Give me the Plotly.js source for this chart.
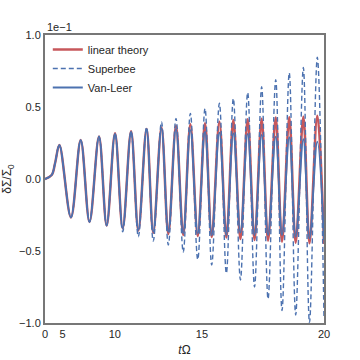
<!DOCTYPE html>
<html>
<head>
<meta charset="utf-8">
<script src="https://cdn.plot.ly/plotly-3.0.1.min.js"></script>
<style>
  html, body { margin: 0; padding: 0; background: #fff; }
  #chart { width: 360px; height: 360px; }
</style>
</head>
<body>
<div id="chart"></div>
<script>
// x positions of the turning points, in the (stretched) plot axis units
const tAxis = [0, 0.48, 0.72, 1.03, 1.86, 2.56, 3.19, 3.87, 4.42, 5.02, 5.57, 6.17, 6.69, 7.28, 7.76,
               8.35, 8.84, 9.39, 9.91, 10.42, 10.95, 11.47, 11.95, 12.50, 13.00, 13.50, 14.01, 14.53,
               15.02, 15.53, 15.99, 16.54, 16.99, 17.51, 17.97, 18.52, 18.96, 19.52, 20.0];

// dSigma/Sigma0 in units of 1e-1
const linearTheory = [0, 0.028, 0.109, 0.236, -0.267, 0.271, -0.299, 0.295, -0.323, 0.317, -0.342, 0.331,
                      -0.358, 0.347, -0.373, 0.358, -0.382, 0.369, -0.389, 0.380, -0.396, 0.387, -0.403,
                      0.398, -0.406, 0.410, -0.417, 0.415, -0.424, 0.419, -0.428, 0.427, -0.435, 0.428,
                      -0.442, 0.433, -0.447, 0.440, -0.451];

const superbee = [0, 0.028, 0.109, 0.236, -0.267, 0.271, -0.299, 0.295, -0.323, 0.317, -0.366, 0.331,
                  -0.401, 0.361, -0.431, 0.396, -0.458, 0.420, -0.508, 0.456, -0.560, 0.490, -0.597,
                  0.526, -0.655, 0.560, -0.701, 0.601, -0.750, 0.641, -0.833, 0.690, -0.913, 0.738,
                  -0.944, 0.774, -0.997, 0.845, -0.972];

const vanLeer = [0, 0.028, 0.109, 0.236, -0.267, 0.271, -0.299, 0.295, -0.323, 0.315, -0.342, 0.328,
                 -0.354, 0.344, -0.366, 0.351, -0.366, 0.347, -0.377, 0.340, -0.377, 0.328, -0.389,
                 0.322, -0.389, 0.317, -0.370, 0.313, -0.389, 0.306, -0.389, 0.294, -0.389, 0.290,
                 -0.401, 0.276, -0.412, 0.259, -0.424];

// tick labels (tΩ) and where they sit on the axis
const xTickVals = [0, 1.25, 5, 11.25, 20];
const xTickText = ['0', '5', '10', '15', '20'];
const yTickVals = [-1, -0.5, 0, 0.5, 1];

const RED = '#c44e52';
const BLUE = '#4c72b0';
const FONT = 'Liberation Sans, Arial, sans-serif';

const traces = [
    {
        x: tAxis, y: linearTheory,
        mode: 'lines', name: 'linear theory',
        line: { color: RED, width: 2.5, shape: 'spline', smoothing: 1 },
        opacity: 0.95
    },
    {
        x: tAxis, y: superbee,
        mode: 'lines', name: 'Superbee',
        line: { color: BLUE, width: 1.4, dash: '5px,3px', shape: 'spline', smoothing: 1 }
    },
    {
        x: tAxis, y: vanLeer,
        mode: 'lines', name: 'Van-Leer',
        line: { color: BLUE, width: 1.8, shape: 'spline', smoothing: 1 }
    }
];

const axisCommon = {
    showgrid: false,
    zeroline: false,
    showline: true,
    mirror: true,
    linecolor: '#777',
    linewidth: 2,
    ticks: '',
    tickfont: { family: FONT, size: 11, color: '#262626' },
    fixedrange: true
};

const layout = {
    width: 360, height: 360,
    margin: { l: 45, r: 36, t: 35, b: 37 },
    paper_bgcolor: '#fff',
    plot_bgcolor: '#fff',
    font: { family: FONT, color: '#262626' },
    xaxis: Object.assign({}, axisCommon, {
        range: [0, 20],
        tickvals: xTickVals,
        ticktext: xTickText,
        title: { text: '<i>t</i>Ω', font: { family: FONT, size: 12 }, standoff: 6 }
    }),
    yaxis: Object.assign({}, axisCommon, {
        range: [-1, 1],
        tickvals: yTickVals,
        tickformat: '.1f',
        title: { text: 'δΣ/Σ<sub>0</sub>', font: { family: FONT, size: 12 }, standoff: 6 }
    }),
    showlegend: true,
    legend: {
        x: 0.01, y: 1.0, xanchor: 'left', yanchor: 'top',
        bgcolor: 'rgba(255,255,255,0)',
        font: { family: FONT, size: 11, color: '#262626' },
        itemwidth: 30,
        tracegroupgap: 0
    },
    annotations: [{
        text: '1e−1',
        xref: 'paper', yref: 'paper', x: 0, y: 1,
        xanchor: 'left', yanchor: 'bottom',
        showarrow: false,
        font: { family: FONT, size: 11, color: '#262626' }
    }]
};

Plotly.newPlot('chart', traces, layout, { displayModeBar: false, staticPlot: true });
</script>
</body>
</html>
